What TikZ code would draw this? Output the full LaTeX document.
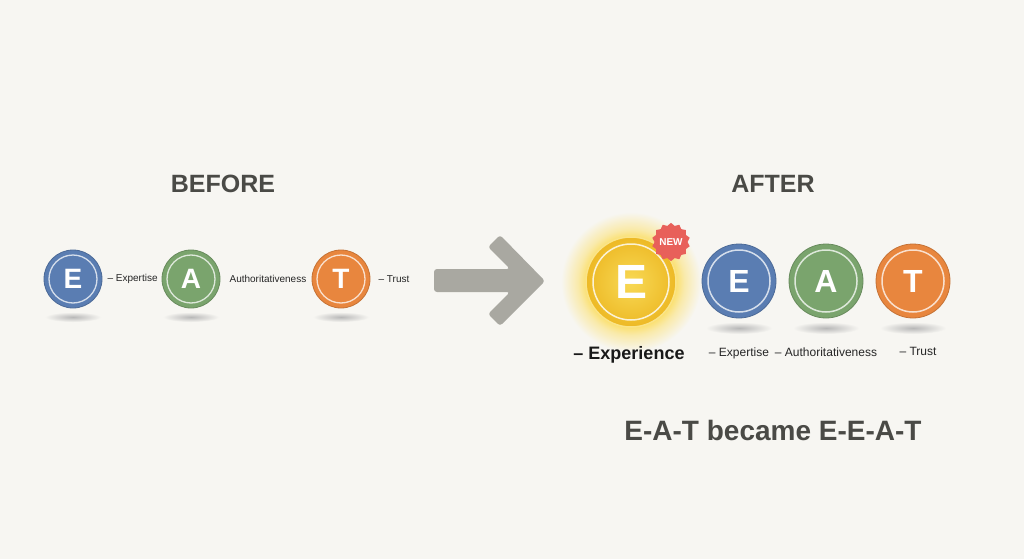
\documentclass[tikz,border=0pt]{standalone}
\usepackage{fontspec}
\setmainfont{Liberation Sans}
\usetikzlibrary{positioning,shapes.geometric}

\definecolor{paperBg}{HTML}{F7F6F2}
\definecolor{titleGray}{HTML}{4A4A46}
\definecolor{arrowGray}{HTML}{A9A8A1}
\definecolor{eatBlue}{HTML}{5A7DB2}
\definecolor{eatGreen}{HTML}{7AA46D}
\definecolor{eatOrange}{HTML}{E8863E}
\definecolor{coinGold}{HTML}{EDB925}
\definecolor{coinLight}{HTML}{F8D955}
\definecolor{glowYellow}{HTML}{FBE070}
\definecolor{badgeRed}{HTML}{E8605A}

\pgfdeclareradialshading{coinGlow}{\pgfpoint{0bp}{0bp}}{color(0bp)=(glowYellow); color(16bp)=(glowYellow); color(19bp)=(glowYellow!55!paperBg); color(25bp)=(paperBg); color(50bp)=(paperBg)}

\begin{document}
\begin{tikzpicture}[
    x=1pt, y=-1pt,
    titleText/.style={font=\fontsize{25}{25}\selectfont\bfseries, text=titleGray},
    smallCirc/.style={circle, minimum size=58pt, inner sep=0pt, text=white,
        font=\fontsize{28}{28}\selectfont\bfseries, draw=#1!85!black, line width=0.8pt, fill=#1,
        path picture={\draw[white, opacity=0.75, line width=1.3pt] (path picture bounding box.center) circle (24pt);}},
    bigCirc/.style={circle, minimum size=74pt, inner sep=0pt, text=white,
        font=\fontsize{32}{32}\selectfont\bfseries, draw=#1!85!black, line width=0.8pt, fill=#1,
        path picture={\draw[white, opacity=0.75, line width=1.5pt] (path picture bounding box.center) circle (31pt);}},
    beforeLbl/.style={font=\fontsize{10}{10}\selectfont, text=black!85, inner sep=0pt},
    afterLbl/.style={font=\fontsize{12}{12}\selectfont, text=black!85, inner sep=0pt},
    dropShadow/.style={inner color=black!28, outer color=paperBg}
]
% ================= BACKGROUND =================
\fill[paperBg] (0,0) rectangle (1024,559);
\useasboundingbox (0,0) rectangle (1024,559);

% ================= BEFORE =================
\node[titleText] (beforeTitle) at (223,184) {BEFORE};

\shade[dropShadow] (73,317) ellipse [x radius=28pt, y radius=5pt];
\shade[dropShadow] (191,317) ellipse [x radius=28pt, y radius=5pt];
\shade[dropShadow] (341,317) ellipse [x radius=28pt, y radius=5pt];

\node[smallCirc=eatBlue] (bE) at (73,279) {E};
\node[beforeLbl, right=5pt of bE] (bExp) {– Expertise};
\node[smallCirc=eatGreen] (bA) at (191,279) {A};
\node[beforeLbl, right=9pt of bA] (bAuth) {Authoritativeness};
\node[smallCirc=eatOrange] (bT) at (341,279) {T};
\node[beforeLbl, right=8pt of bT] (bTrust) {– Trust};

% ================= AFTER =================
\node[titleText] (afterTitle) at (773,184) {AFTER};

\shade[shading=coinGlow] (631,282) circle (70pt);
\shade[dropShadow] (739,328) ellipse [x radius=33pt, y radius=6pt];
\shade[dropShadow] (826,328) ellipse [x radius=33pt, y radius=6pt];
\shade[dropShadow] (913,328) ellipse [x radius=33pt, y radius=6pt];

% ================= ARROW =================
\fill[arrowGray, rounded corners=3pt] (434,269) -- (510,269) -- (488,247) -- (500,235)
    -- (545,281) -- (500,326) -- (488,314) -- (510,292) -- (434,292) -- cycle;

\node[circle, minimum size=90pt, inner sep=0pt, draw=coinLight!70!white, line width=1.5pt,
    inner color=coinLight, outer color=coinGold,
    path picture={\draw[white, opacity=0.8, line width=1.5pt] (path picture bounding box.center) circle (38pt);},
    text=white, font=\fontsize{48}{48}\selectfont\bfseries] (aNew) at (631,282) {E};
\node[star, star points=14, star point ratio=1.16, minimum size=37pt, inner sep=0pt, fill=badgeRed,
    text=white, font=\fontsize{10}{10}\selectfont\bfseries] (newBadge) at (671,242) {NEW};
\node[font=\fontsize{18}{18}\selectfont\bfseries, text=black!90, inner sep=0pt, below=19pt of aNew, xshift=-2pt] (aExpr) {– Experience};

\node[bigCirc=eatBlue] (aE) at (739,281) {E};
\node[bigCirc=eatGreen] (aA) at (826,281) {A};
\node[bigCirc=eatOrange] (aT) at (913,281) {T};

\node[afterLbl, below=29pt of aE] (aExp) {– Expertise};
\node[afterLbl, below=29pt of aA] (aAuth) {– Authoritativeness};
\node[afterLbl, below=29pt of aT, xshift=5pt] (aTrust) {– Trust};

\node[font=\fontsize{28}{28}\selectfont\bfseries, text=titleGray] (summary) at (773,430) {E-A-T became E-E-A-T};
\end{tikzpicture}
\end{document}
